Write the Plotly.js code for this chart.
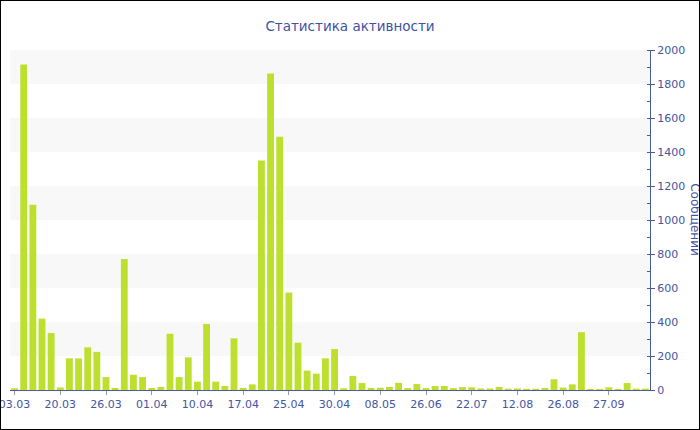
<!DOCTYPE html>
<html>
<head>
<meta charset="utf-8">
<script src="https://cdn.plot.ly/plotly-3.0.1.min.js"></script>
<style>
  html, body { margin: 0; padding: 0; background: #fff; }
  #chart { width: 698px; height: 428px; border: 1px solid #000; }
</style>
</head>
<body>
<div id="chart"></div>
<script>
// Category dates (only labelled ones; others fill the sequence)
const dates = [
  "03.03","16.03","17.03","18.03","19.03","20.03","21.03","22.03","23.03","24.03",
  "26.03","27.03","28.03","29.03","30.03","01.04","03.04","05.04","07.04","08.04",
  "10.04","11.04","12.04","14.04","15.04","17.04","19.04","21.04","22.04","23.04",
  "25.04","26.04","27.04","28.04","29.04","30.04","02.05","04.05","05.05","06.05",
  "08.05","12.05","18.05","27.05","10.06","26.06","30.06","06.07","12.07","17.07",
  "22.07","27.07","01.08","05.08","08.08","12.08","15.08","18.08","21.08","24.08",
  "26.08","28.08","30.08","02.09","15.09","27.09","05.10","12.10","20.10","28.10"
];
// Messages per day
const messages = [
  10,1915,1090,420,335,15,186,186,251,224,
  76,12,770,90,76,12,18,331,76,192,
  49,388,49,24,304,12,33,1350,1862,1490,
  573,278,114,96,186,241,10,83,41,12,
  13,18,42,11,35,11,23,24,11,17,
  16,9,9,18,8,9,7,7,12,63,
  14,33,340,6,6,16,6,41,8,8
];
// Tick labels shown on the x axis
const tickLabels = ["03.03","20.03","26.03","01.04","10.04","17.04","25.04","30.04","08.05","26.06","22.07","12.08","26.08","27.09"];
const yTicks = [0,200,400,600,800,1000,1200,1400,1600,1800,2000];
const bands = [[1800,2000],[1400,1600],[1000,1200],[600,800],[200,400]];

const axisColor = '#4a5a9c';
const textColor = '#44559f';

const shapes = bands.map(b => ({
  type: 'rect', xref: 'paper', yref: 'y', x0: 0, x1: 1, y0: b[0], y1: b[1],
  fillcolor: '#f8f8f8', line: {width: 0}, layer: 'below'
}));

const trace = {
  type: 'bar',
  x: dates,
  y: messages,
  marker: { color: '#bde02e', line: {width: 0} },
  hoverinfo: 'x+y'
};

const layout = {
  width: 698, height: 428,
  margin: {l: 9, r: 49, t: 49, b: 39, pad: 0},
  paper_bgcolor: '#fff', plot_bgcolor: 'rgba(0,0,0,0)',
  font: {family: 'DejaVu Sans, Verdana, sans-serif', size: 11, color: textColor},
  title: {
    text: 'Статистика активности',
    font: {family: 'DejaVu Sans, Verdana, sans-serif', size: 13.5, color: '#3f51a3'},
    xref: 'container', x: 0.5, xanchor: 'center',
    yref: 'container', y: 1 - 25/428, yanchor: 'middle'
  },
  bargap: 0.25,
  showlegend: false,
  xaxis: {
    type: 'category',
    range: [-0.5, dates.length - 0.5],
    tickmode: 'array', tickvals: tickLabels, ticktext: tickLabels,
    showline: true, linecolor: axisColor, linewidth: 1,
    ticks: 'outside', ticklen: 4, tickcolor: '#999',
    showgrid: false, zeroline: false,
    tickfont: {size: 11, color: textColor},
    fixedrange: true
  },
  yaxis: {
    side: 'right',
    range: [0, 2000],
    tickmode: 'array', tickvals: yTicks,
    showline: true, linecolor: axisColor, linewidth: 1,
    ticks: 'outside', ticklen: 4, tickcolor: axisColor,
    minor: {dtick: 100, ticks: 'inside', ticklen: 3, tickcolor: axisColor, showgrid: false},
    showgrid: false, zeroline: false,
    tickfont: {size: 11, color: textColor},
    fixedrange: true
  },
  shapes: shapes,
  annotations: [{
    text: 'Сообщений', textangle: 90,
    xref: 'paper', yref: 'paper', x: 1.07, y: 0.5,
    xanchor: 'center', yanchor: 'middle', showarrow: false,
    font: {family: 'DejaVu Sans, Verdana, sans-serif', size: 12, color: textColor}
  }]
};

Plotly.newPlot('chart', [trace], layout, {displayModeBar: false, staticPlot: true});
</script>
</body>
</html>
